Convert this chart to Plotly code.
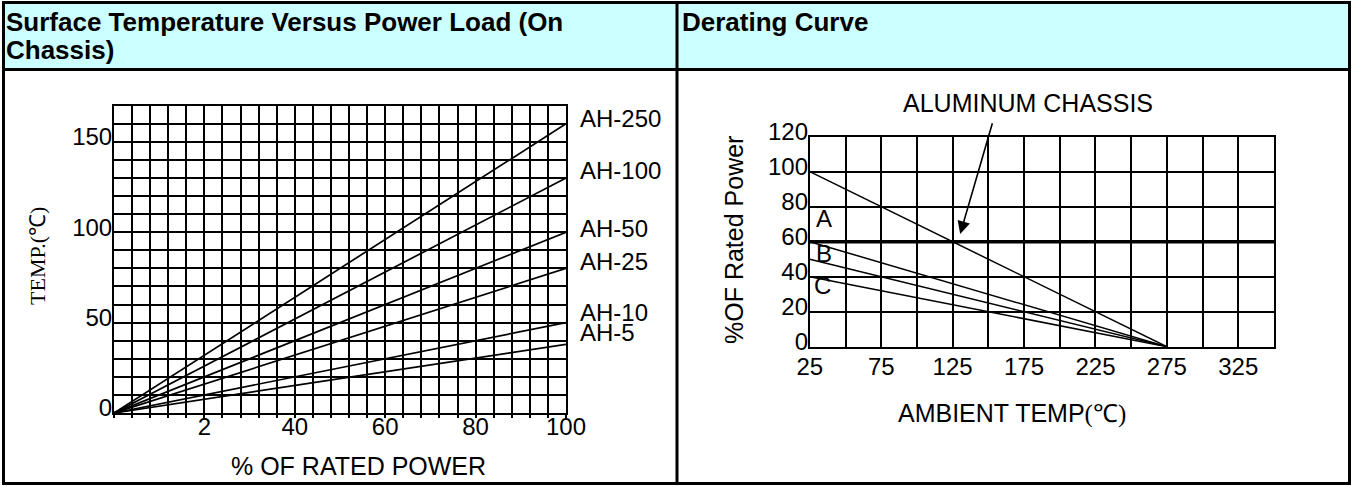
import plotly.graph_objects as go

W, H = 1353, 486

# ---------------- data: left chart ----------------
power_pct = [0, 100]
series_names = ["AH-250", "AH-100", "AH-50", "AH-25", "AH-10", "AH-5"]
temp_at_full_load = [160, 130, 100, 80, 50, 38]
left_xtick_vals = [20, 40, 60, 80, 100]
left_xtick_text = ["2", "40", "60", "80", "100"]
left_ytick_vals = [0, 50, 100, 150]

# ---------------- data: right chart ----------------
chassis_temp = [25, 275]
chassis_power = [100, 0]
curve_a_temp = [25, 350]
curve_a_power = [60, 60]
derate_labels = ["A", "B", "C"]
derate_temp = [25, 275]
derate_start_power = [60, 50, 40]
right_xtick_vals = [25, 75, 125, 175, 225, 275, 325]
right_ytick_vals = [0, 20, 40, 60, 80, 100, 120]

SANS = "Liberation Sans, Arial, sans-serif"
SERIF = "Liberation Serif, Times New Roman, serif"


def px(x):
    return x / W


def py(y):
    return 1 - y / H


fig = go.Figure()

for name, t in zip(series_names, temp_at_full_load):
    fig.add_trace(go.Scatter(x=power_pct, y=[0, t], mode="lines", name=name,
                             line=dict(color="black", width=1.7),
                             xaxis="x", yaxis="y", showlegend=False, hoverinfo="skip"))

fig.add_trace(go.Scatter(x=curve_a_temp, y=curve_a_power, mode="lines",
                         line=dict(color="black", width=3.4),
                         xaxis="x2", yaxis="y2", showlegend=False, hoverinfo="skip"))
fig.add_trace(go.Scatter(x=chassis_temp, y=chassis_power, mode="lines",
                         line=dict(color="black", width=1.5),
                         xaxis="x2", yaxis="y2", showlegend=False, hoverinfo="skip"))
for p in derate_start_power:
    fig.add_trace(go.Scatter(x=derate_temp, y=[p, 0], mode="lines",
                             line=dict(color="black", width=1.5),
                             xaxis="x2", yaxis="y2", showlegend=False, hoverinfo="skip"))

grid = dict(showgrid=True, gridcolor="black", gridwidth=2, zeroline=False, automargin=False,
            showline=True, mirror=True, linecolor="black", linewidth=2)

fig.update_layout(
    template="none",
    width=W, height=H, autosize=False,
    margin=dict(l=0, r=0, t=0, b=0, pad=0, autoexpand=False),
    paper_bgcolor="white", plot_bgcolor="white",
    showlegend=False,
    font=dict(family=SANS, color="black"),
    xaxis=dict(domain=[px(114), px(566)], range=[0, 100], anchor="y",
               tickvals=left_xtick_vals, ticktext=left_xtick_text,
               ticks="", ticklabelstandoff=-9,
               tickfont=dict(size=24, family=SANS),
               minor=dict(dtick=4, tick0=0, showgrid=True, gridcolor="black", gridwidth=2,
                          ticks="outside", ticklen=3, tickcolor="black", tickwidth=2),
               **grid),
    yaxis=dict(domain=[py(413), py(105.7)], range=[0, 170], anchor="x",
               tickvals=left_ytick_vals, ticks="", ticklabelstandoff=-5, ticklabelshift=-5,
               tickfont=dict(size=24, family=SANS),
               minor=dict(dtick=10, tick0=0, showgrid=True, gridcolor="black", gridwidth=2),
               **grid),
    xaxis2=dict(domain=[px(809.8), px(1274)], range=[25, 350], anchor="y2",
                tickvals=right_xtick_vals, ticks="", ticklabelstandoff=-3,
                tickfont=dict(size=24, family=SANS),
                minor=dict(dtick=25, tick0=25, showgrid=True, gridcolor="black", gridwidth=2),
                **grid),
    yaxis2=dict(domain=[py(346.7), py(136.7)], range=[0, 120], anchor="x2",
                tickvals=right_ytick_vals, ticks="", ticklabelstandoff=-5, ticklabelshift=-5,
                tickfont=dict(size=24, family=SANS),
                **grid),
)

# ---------------- table frame ----------------
shapes = [
    dict(type="rect", xref="paper", yref="paper", x0=px(3), x1=px(1350), y0=py(69.5), y1=py(2),
         fillcolor="#CCFFFF", line=dict(width=0), layer="below"),
    dict(type="rect", xref="paper", yref="paper", x0=px(3.5), x1=px(1349.5), y0=py(483.5), y1=py(2.5),
         line=dict(color="black", width=3)),
    dict(type="line", xref="paper", yref="paper", x0=px(3), x1=px(1350), y0=py(69.5), y1=py(69.5),
         line=dict(color="black", width=3)),
    dict(type="line", xref="paper", yref="paper", x0=px(677), x1=px(677), y0=py(484), y1=py(2),
         line=dict(color="black", width=3)),
]
fig.update_layout(shapes=shapes)


def text(t, x, y, size, family=SANS, xanchor="center", angle=0):
    return dict(text=t, x=px(x), y=py(y), xref="paper", yref="paper",
                xanchor=xanchor, yanchor="middle", align="left", textangle=angle,
                showarrow=False, font=dict(size=size, family=family))


ann = []
ann.append(text("<b>Surface Temperature Versus Power Load (On</b>", 4, 22, 26, xanchor="left"))
ann.append(text("<b>Chassis)</b>", 4, 50, 26, xanchor="left"))
ann.append(text("<b>Derating Curve</b>", 680, 22, 26, xanchor="left"))

# curve labels on the left chart
label_y = [118, 170.7, 228, 261.7, 312, 332.5]
for name, yy in zip(series_names, label_y):
    ann.append(text(name, 578, yy, 24, xanchor="left"))

ann.append(text("TEMP.(℃)", 37, 256, 22, family=SERIF, angle=-90))
ann.append(text("% OF RATED POWER", 358, 466, 25))

# right chart labels
ann.append(text("%OF Rated Power", 734, 240, 25, angle=-90))
ann.append(text("AMBIENT TEMP<span style='font-family:Liberation Serif, serif'>(℃)</span>",
                1012, 413, 25))
ann.append(text("ALUMINUM CHASSIS", 1028, 103, 25))
ann.append(dict(text="", x=130.3, y=64.4, xref="x2", yref="y2", showarrow=True,
                ax=32.6, ay=-112.3, axref="pixel", ayref="pixel",
                arrowhead=2, arrowsize=1.6, arrowwidth=1.6, arrowcolor="black"))
for lab, xx, yy in zip(derate_labels, [824.4, 824.4, 822.5], [218, 253, 285]):
    ann.append(text(lab, xx, yy, 24))

fig.update_layout(annotations=ann)

fig.write_html("out.html", config={"displayModeBar": False},
               post_script="document.body.style.margin='0';document.body.style.overflow='hidden';")
